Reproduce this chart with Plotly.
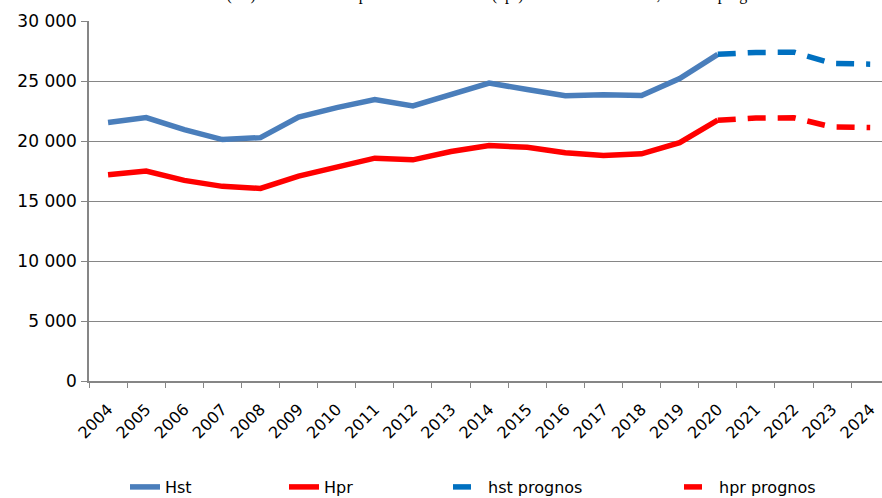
import plotly.graph_objects as go

# ---- data ----
years = ["2004", "2005", "2006", "2007", "2008", "2009", "2010", "2011", "2012",
         "2013", "2014", "2015", "2016", "2017", "2018", "2019", "2020",
         "2021", "2022", "2023", "2024"]
hist_years = years[:17]          # 2004-2020
prog_years = years[16:]          # 2020-2024

hst = [21550, 21950, 20950, 20120, 20280, 22000, 22780, 23450, 22930, 23850,
       24830, 24290, 23770, 23850, 23800, 25200, 27220]
hpr = [17190, 17490, 16720, 16220, 16050, 17070, 17820, 18570, 18430, 19120,
       19620, 19480, 19030, 18800, 18930, 19860, 21730]
hst_prognos = [27220, 27380, 27400, 26470, 26400]
hpr_prognos = [21730, 21920, 21930, 21170, 21120]

title_text = ("Antal hushåll (hst) och totalt antal personer i hushållen (hpr) "
              "under år 2004–2020, samt en prognos")

FONT = "DejaVu Sans"
GRAY = "#868686"

fig = go.Figure()
fig.add_trace(go.Scatter(x=hist_years, y=hst, name="Hst", mode="lines",
                         line=dict(color="#4A7EBB", width=5.5), legend="legend"))
fig.add_trace(go.Scatter(x=hist_years, y=hpr, name="Hpr", mode="lines",
                         line=dict(color="#FF0000", width=5.5), legend="legend2"))
fig.add_trace(go.Scatter(x=prog_years, y=hst_prognos, name="hst prognos", mode="lines",
                         line=dict(color="#0070C0", width=5.5, dash="18px,12px"),
                         legend="legend3"))
fig.add_trace(go.Scatter(x=prog_years, y=hpr_prognos, name="hpr prognos", mode="lines",
                         line=dict(color="#FF0000", width=5.5, dash="18px,12px"),
                         legend="legend4"))

W, H = 882, 498
leg_common = dict(orientation="h", xref="container", yref="container",
                  xanchor="left", yanchor="middle", y=(H - 487) / H,
                  bgcolor="rgba(0,0,0,0)", font=dict(family=FONT, size=16, color="#000"))
text_starts = [164, 323, 487, 718]

fig.update_layout(
    width=W, height=H,
    margin=dict(l=89, r=0, t=21, b=117, autoexpand=False),
    paper_bgcolor="white", plot_bgcolor="white",
    separators=", ",
    font=dict(family=FONT, size=16, color="#000"),
    showlegend=True,
    legend=dict(leg_common, x=(text_starts[0] - 39) / W),
    legend2=dict(leg_common, x=(text_starts[1] - 39) / W),
    legend3=dict(leg_common, x=(text_starts[2] - 39) / W),
    legend4=dict(leg_common, x=(text_starts[3] - 39) / W),
    xaxis=dict(type="category", categoryorder="array", categoryarray=years,
               range=[-0.5, 20.31], tickson="boundaries", ticks="outside",
               ticklen=5, tickcolor=GRAY, showgrid=False, showline=True,
               linecolor=GRAY, linewidth=1.5, tickangle=-45, automargin=False,
               ticklabelstandoff=11,
               tickfont=dict(family=FONT, size=16)),
    yaxis=dict(range=[0, 30000], dtick=5000, tickformat=",d", ticks="outside",
               ticklen=6, tickcolor=GRAY, showgrid=True, gridcolor=GRAY,
               gridwidth=1, showline=True, linecolor=GRAY, linewidth=1.5,
               zeroline=False, ticklabelstandoff=1, automargin=False,
               tickfont=dict(family=FONT, size=17)),
    title=dict(text=title_text, xref="container", yref="container",
               x=0.5 + 12 / W, xanchor="center", y=1, yanchor="bottom",
               pad=dict(b=0, t=0, l=0, r=0), automargin=False,
               font=dict(family="Liberation Serif, Times New Roman, serif",
                         size=16, color="#000")),
)

fig.write_html("out.html",
               config={"displayModeBar": False},
               post_script="document.body.style.margin='0px';")
